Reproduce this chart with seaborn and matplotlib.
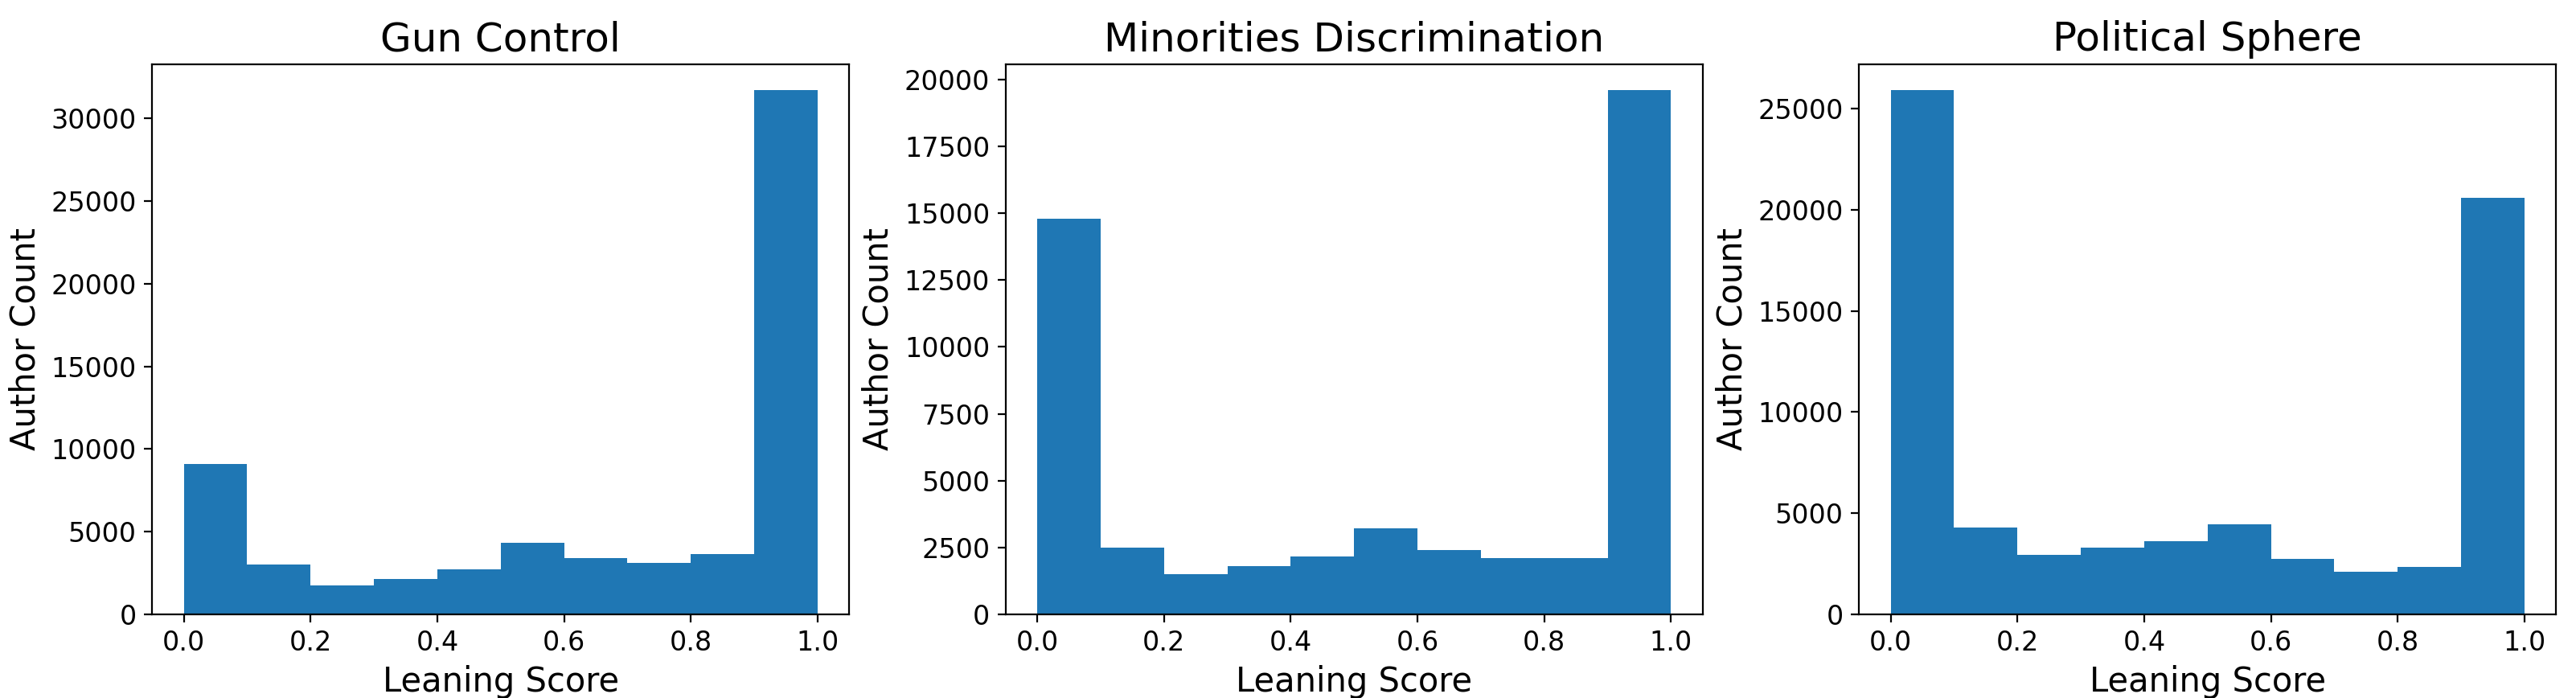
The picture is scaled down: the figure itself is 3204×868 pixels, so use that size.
import numpy as np
import pandas as pd
from matplotlib import pyplot as plt
import seaborn as sns

titles = ["Gun Control", "Minorities Discrimination", "Political Sphere"]
bin_edges = [0.0, 0.1, 0.2, 0.3, 0.4, 0.5, 0.6, 0.7, 0.8, 0.9, 1.0]
gun_counts = [9100, 3000, 1750, 2150, 2700, 4300, 3400, 3100, 3650, 31700]
minor_counts = [14800, 2500, 1500, 1800, 2150, 3200, 2400, 2100, 2100, 19600]
polit_counts = [25900, 4300, 2950, 3300, 3600, 4450, 2750, 2100, 2350, 20600]
all_counts = [gun_counts, minor_counts, polit_counts]

centers = [(a + b) / 2 for a, b in zip(bin_edges[:-1], bin_edges[1:])]

fig, axes = plt.subplots(1, 3, figsize=(16.025, 4.34), dpi=200)
fig.subplots_adjust(left=0.059, right=0.992, bottom=0.12, top=0.908, wspace=0.224)

for ax, title, counts in zip(axes, titles, all_counts):
    df = pd.DataFrame({"score": centers, "count": counts})
    sns.histplot(data=df, x="score", weights="count", bins=bin_edges, ax=ax,
                 color="#1f77b4", alpha=1.0, edgecolor="none", linewidth=0)
    ax.set_title(title, fontsize=18)
    ax.set_xlabel("Leaning Score", fontsize=15)
    ax.set_ylabel("Author Count", fontsize=15)
    ax.tick_params(labelsize=12)
    ax.set_xticks([0.0, 0.2, 0.4, 0.6, 0.8, 1.0])

fig.savefig("out.png")
